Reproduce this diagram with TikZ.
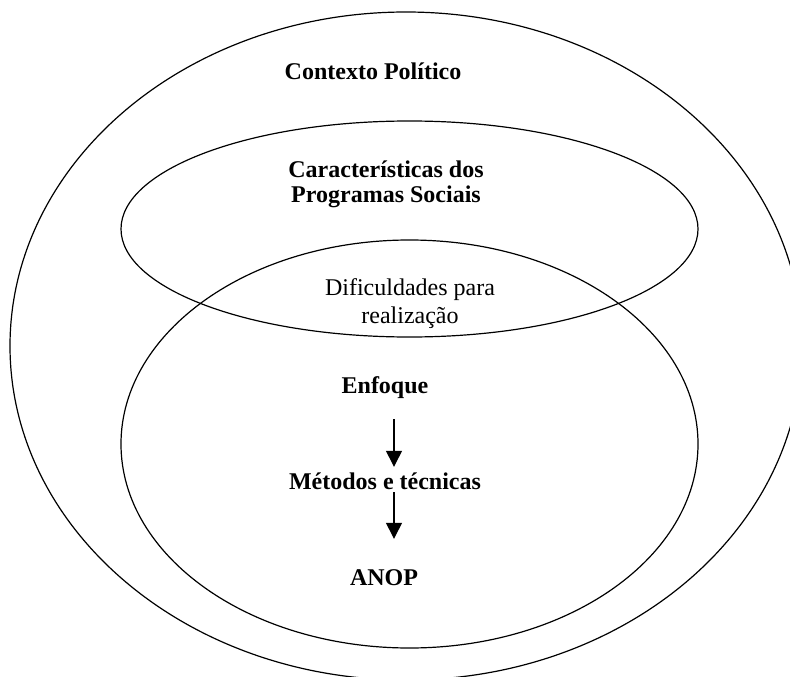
\documentclass[tikz,border=0pt]{standalone}
\usepackage{fontspec}
\setmainfont{Liberation Serif}
\usetikzlibrary{shapes.geometric,arrows.meta,positioning}
\tikzset{every node/.append style={align=center}}

\begin{document}
\begin{tikzpicture}[x=1pt, y=-1pt,
    circle line/.style={draw, ellipse, line width=1.2pt, inner sep=0pt},
    label text/.style={font=\fontsize{24}{25}\selectfont\bfseries, inner sep=0pt, anchor=base, text height=17pt, text depth=5pt},
    flow/.style={-{Triangle[width=16pt, length=16pt]}, line width=1.3pt}]
        \clip (0,0) rectangle (790,677);

        % Nested fields
        \node[circle line, minimum width=792pt, minimum height=668pt] (contexto) at (406,346) {};
        \node[circle line, minimum width=577pt, minimum height=216pt] (programas) at (409.5,229) {};
        \node[circle line, minimum width=577pt, minimum height=408pt] (avaliacao) at (409.5,444) {};

        % Field labels (base = last line)
        \node[label text] (tcontexto) at (373,79) {Contexto Político};
        \node[label text, text height=, text depth=] (tprogramas) at (386,202) {Características dos\\Programas Sociais};
        \node[label text, text height=, text depth=, font=\fontsize{24}{28}\selectfont] (tdificuldades) at (410,323) {Dificuldades para\\realização};

        % Evaluation chain
        \node[label text] (enfoque) at (385,393) {Enfoque};
        \node[label text] (metodos) at (385,489) {Métodos e técnicas};
        \node[label text] (anop) at (384,585) {ANOP};

        \draw[flow, shorten <=21pt, shorten >=5pt] ([xshift=9pt]enfoque.south) -- ([xshift=9pt]metodos.north);
        \draw[flow, shorten <=-2pt, shorten >=29pt] ([xshift=9pt]metodos.south) -- ([xshift=10pt]anop.north);
\end{tikzpicture}
\end{document}
